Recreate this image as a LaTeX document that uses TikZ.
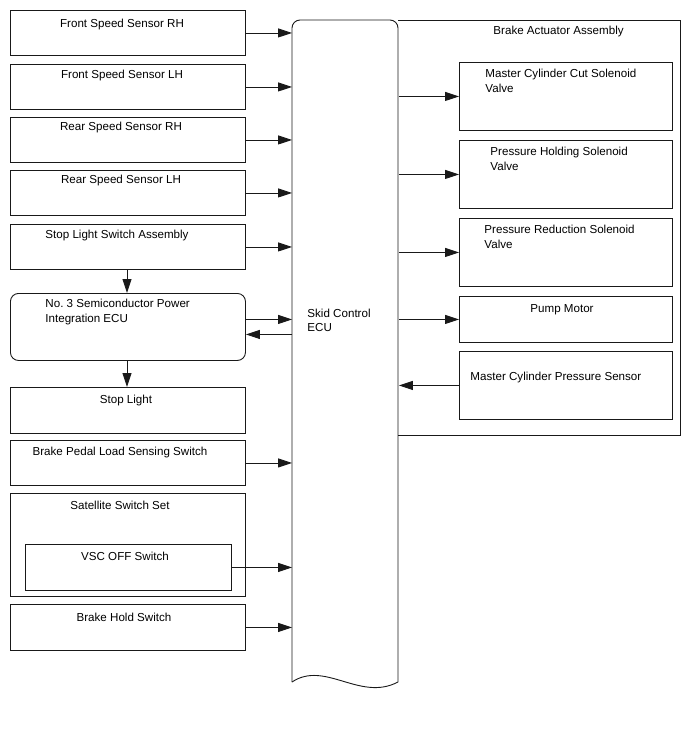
\documentclass[tikz,border=0pt]{standalone}
\usepackage{fontspec}
\setmainfont{Liberation Sans}
\usetikzlibrary{arrows.meta}
\begin{document}
\begin{tikzpicture}[x=1pt,y=-1pt,
  line width=0.9pt, draw=black!90,
  box/.style={draw=black!90, line width=0.9pt, rectangle, anchor=north west, inner sep=0pt},
  rbox/.style={box, rounded corners=8pt},
  lbl/.style={anchor=base, inner sep=0pt, font=\fontsize{11.6}{13}\selectfont},
  lblw/.style={anchor=base west, inner sep=0pt, font=\fontsize{11.6}{13}\selectfont},
  arr/.style={draw=black!90, line width=0.9pt, -{Triangle[length=14pt,width=9pt]}}]
\useasboundingbox (0,0) rectangle (688,755);
% Brake actuator assembly frame
\draw[line width=0.9pt, draw=black!90] (398,20) -- (680,20) -- (680,435) -- (398,435);
\node[lblw] (bactl) at (493,34) {Brake Actuator Assembly};
% ECU
\node[inner sep=0pt, minimum width=106pt, minimum height=662pt, anchor=north west] (ecu) at (292,20) {};
\draw[line width=0.9pt, draw=black!90, rounded corners=8pt] (292,682) -- (292,20) -- (398,20) -- (398,682);
\draw[line width=0.9pt, draw=black!90] (398,682) .. controls (360,702) and (325,660) .. (292,682);
\node[lblw] (ecut1) at (307,317) {Skid Control};
\node[lblw] (ecut2) at (307,331) {ECU};
% Left boxes
\node[box, minimum width=235pt, minimum height=45pt] (frh) at (10,10) {};
\node[lbl] at (122,27) {Front Speed Sensor RH};
\node[box, minimum width=235pt, minimum height=45pt] (flh) at (10,64) {};
\node[lbl] at (122,78) {Front Speed Sensor LH};
\node[box, minimum width=235pt, minimum height=45pt] (rrh) at (10,117) {};
\node[lbl] at (121,130) {Rear Speed Sensor RH};
\node[box, minimum width=235pt, minimum height=45pt] (rlh) at (10,170) {};
\node[lbl] at (121,183) {Rear Speed Sensor LH};
\node[box, minimum width=235pt, minimum height=45pt] (sls) at (10,224) {};
\node[lbl] at (117,238) {Stop Light Switch Assembly};
\node[rbox, minimum width=235pt, minimum height=67pt] (spi) at (10,293) {};
\node[lblw] at (45,307) {No.\ 3 Semiconductor Power};
\node[lblw] at (45,322) {Integration ECU};
\node[box, minimum width=235pt, minimum height=46pt] (stl) at (10,387) {};
\node[lbl] at (126,403) {Stop Light};
\node[box, minimum width=235pt, minimum height=45pt] (bpl) at (10,440) {};
\node[lbl] at (120,455) {Brake Pedal Load Sensing Switch};
\node[box, minimum width=235pt, minimum height=103pt] (sss) at (10,493) {};
\node[lbl] at (120,509) {Satellite Switch Set};
\node[box, minimum width=206pt, minimum height=46pt] (vsc) at (25,544) {};
\node[lbl] at (125,560) {VSC OFF Switch};
\node[box, minimum width=235pt, minimum height=46pt] (bhs) at (10,604) {};
\node[lbl] at (124,621) {Brake Hold Switch};
% Right boxes
\node[box, minimum width=213pt, minimum height=68pt] (mcc) at (459,62) {};
\node[lblw] at (485,77) {Master Cylinder Cut Solenoid};
\node[lblw] at (485,92) {Valve};
\node[box, minimum width=213pt, minimum height=68pt] (phs) at (459,140) {};
\node[lblw] at (490,155) {Pressure Holding Solenoid};
\node[lblw] at (490,170) {Valve};
\node[box, minimum width=213pt, minimum height=68pt] (prs) at (459,218) {};
\node[lblw] at (484,233) {Pressure Reduction Solenoid};
\node[lblw] at (484,248) {Valve};
\node[box, minimum width=213pt, minimum height=46pt] (pmp) at (459,296) {};
\node[lbl] at (562,312) {Pump Motor};
\node[box, minimum width=213pt, minimum height=68pt] (mcp) at (459,351) {};
\node[lblw] at (470,380) {Master Cylinder Pressure Sensor};
% helper coordinates
\coordinate (spia) at ([yshift=7.5pt]spi.east);
\coordinate (spib) at ([yshift=-7.5pt]spi.east);
% Arrows left -> ECU
\draw[arr] (frh.east) -- (ecu.west |- frh.east);
\draw[arr] (flh.east) -- (ecu.west |- flh.east);
\draw[arr] (rrh.east) -- (ecu.west |- rrh.east);
\draw[arr] (rlh.east) -- (ecu.west |- rlh.east);
\draw[arr] (sls.east) -- (ecu.west |- sls.east);
\draw[arr] (spia) -- (ecu.west |- spia);
\draw[arr] (ecu.west |- spib) -- (spib);
\draw[arr] (bpl.east) -- (ecu.west |- bpl.east);
\draw[arr] (vsc.east) -- (ecu.west |- vsc.east);
\draw[arr] (bhs.east) -- (ecu.west |- bhs.east);
% vertical arrows
\draw[arr] (sls.south -| 127,0) -- (spi.north -| 127,0);
\draw[arr] (spi.south -| 127,0) -- (stl.north -| 127,0);
% ECU -> right
\draw[arr] (ecu.east |- mcc.west) -- (mcc.west);
\draw[arr] (ecu.east |- phs.west) -- (phs.west);
\draw[arr] (ecu.east |- prs.west) -- (prs.west);
\draw[arr] (ecu.east |- pmp.west) -- (pmp.west);
\draw[arr] (mcp.west) -- (ecu.east |- mcp.west);
\end{tikzpicture}
\end{document}
